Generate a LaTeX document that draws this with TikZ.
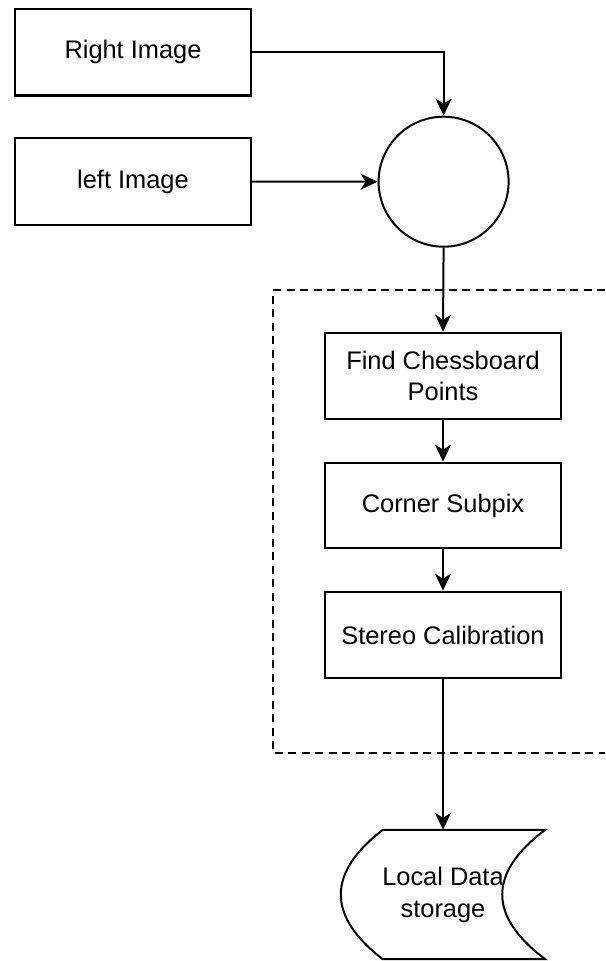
\documentclass[tikz,border=0pt]{standalone}
\usepackage{fontspec}
\setmainfont{Liberation Sans}
\usetikzlibrary{arrows.meta}
\begin{document}
\begin{tikzpicture}[x=1pt,y=-1pt,
  box/.style={draw,line width=2.2pt,rectangle,minimum width=236pt,minimum height=86.5pt,
    inner sep=0pt,align=center,font=\fontsize{25.4}{31.7}\selectfont},
  link/.style={line width=2pt,-{Stealth[length=17pt,width=16pt,inset=5pt]}},
  frame/.style={line width=2pt,dash pattern=on 8pt off 5.5pt}]
\useasboundingbox (0,0) rectangle (605,961);

% inputs
\node[box] (right) at (133,52.2) {Right Image};
\node[box] (left) at (133,181.5) {left Image};
\node[draw,circle,line width=2pt,minimum size=130pt,inner sep=0pt] (join) at (443.6,181.7) {};

% dashed calibration group
\draw[frame] (605,290) -- (273,290) -- (273,753) -- (605,753);

% calibration steps
\node[box] (find) at (443,376) {Find Chessboard\\Points};
\node[box,minimum height=85.6pt] (corner) at (443,505.5) {Corner Subpix};
\node[box] (stereo) at (443,635) {Stereo Calibration};

% stored data symbol (both sides are quadratic arcs written as cubics)
\node[minimum width=204pt,minimum height=129pt,inner sep=0pt,align=center,
  font=\fontsize{25.4}{32}\selectfont] (store) at (443,894.5) {Local Data\\storage};
\draw[line width=2pt,line join=miter]
  ([xshift=42pt]store.north west) -- (store.north east)
  .. controls ([xshift=-57.3pt,yshift=21.5pt]store.east) and ([xshift=-57.3pt,yshift=-21.5pt]store.east) .. (store.south east)
  -- ([xshift=42pt]store.south west)
  .. controls ([xshift=-14pt,yshift=-21.5pt]store.west) and ([xshift=-14pt,yshift=21.5pt]store.west) .. ([xshift=42pt]store.north west) -- cycle;

% connectors
\draw[link] (right.east) -| (join.north);
\draw[link] (left.east) -- (join.west);
\draw[link] (join.south) -- (find.north);
\draw[link] (find.south) -- (corner.north);
\draw[link] (corner.south) -- (stereo.north);
\draw[link] (stereo.south) -- (stereo.south |- store.north);
\end{tikzpicture}
\end{document}
